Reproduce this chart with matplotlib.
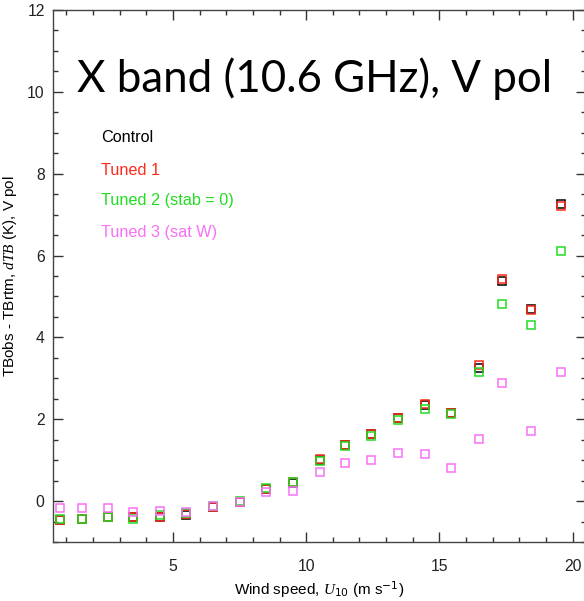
import matplotlib
matplotlib.use("Agg")
import matplotlib.pyplot as plt
from matplotlib.ticker import MultipleLocator

# mean wind speed of each bin (m/s)
wind = [0.75, 1.6, 2.55, 3.5, 4.5, 5.5, 6.5, 7.5, 8.5, 9.5,
        10.5, 11.45, 12.45, 13.45, 14.45, 15.45, 16.5, 17.35, 18.45, 19.55]

control = [-0.47, -0.45, -0.40, -0.38, -0.38, -0.33, -0.14, -0.02, 0.30, 0.45,
           1.01, 1.37, 1.64, 2.03, 2.34, 2.16, 3.25, 5.38, 4.70, 7.25]
tuned1 = [-0.47, -0.45, -0.39, -0.38, -0.38, -0.32, -0.14, -0.02, 0.30, 0.47,
          1.02, 1.38, 1.64, 2.04, 2.36, 2.16, 3.32, 5.42, 4.66, 7.22]
tuned2 = [-0.45, -0.44, -0.38, -0.43, -0.35, -0.30, -0.13, 0.00, 0.33, 0.47,
          0.98, 1.34, 1.60, 1.98, 2.26, 2.12, 3.15, 4.82, 4.31, 6.10]
tuned3 = [-0.16, -0.16, -0.16, -0.27, -0.25, -0.26, -0.13, -0.03, 0.22, 0.25,
          0.71, 0.94, 1.00, 1.17, 1.14, 0.80, 1.52, 2.88, 1.72, 3.16]

labels = ["Control", "Tuned 1", "Tuned 2 (stab = 0)", "Tuned 3 (sat W)"]
colors = ["black", "#ff2a1a", "#22dd22", "#f870f8"]

plt.rcParams['font.family'] = ['Liberation Sans', 'DejaVu Sans']
plt.rcParams['mathtext.fontset'] = 'custom'
plt.rcParams['mathtext.it'] = 'Liberation Serif:italic'

fig = plt.figure(figsize=(5.84, 6.01), dpi=100)
ax = fig.add_axes([53/584, 59/601, 533/584, 532/601])

for ys, c in zip([control, tuned1, tuned2, tuned3], colors):
    ax.plot(wind, ys, ls='none', marker='s', ms=6.3, mfc='none',
            mec=c, mew=1.1)

ax.set_xlim(0.5, 20.5)
ax.set_ylim(-1, 12)
ax.xaxis.set_major_locator(MultipleLocator(5))
ax.xaxis.set_minor_locator(MultipleLocator(1))
ax.yaxis.set_major_locator(MultipleLocator(2))
ax.yaxis.set_minor_locator(MultipleLocator(0.5))
ax.tick_params(which='both', direction='in', top=True, right=True,
               labelsize=11.3, colors='#333333', labelcolor='#222222')
ax.tick_params(which='major', length=7.5, width=1)
ax.tick_params(which='minor', length=3.8, width=1)
ax.tick_params(axis='x', pad=12)
ax.tick_params(axis='y', pad=6)
for s in ax.spines.values():
    s.set_color('#444444')
    s.set_linewidth(1)

ax.set_xlabel(r"Wind speed, $U_{10}$ (m s$^{-1}$)", fontsize=11, labelpad=4)
ax.set_ylabel(r"TBobs - TBrtm, $dTB$ (K), V pol", fontsize=11, labelpad=6)

ax.text(0.045, 0.846, "X band (10.6 GHz), V pol", transform=ax.transAxes,
        fontsize=31.6, family='Lato', va='baseline', ha='left', color='black')

ys_lab = [0.760, 0.699, 0.641, 0.581]
for t, c, yy in zip(labels, colors, ys_lab):
    ax.text(0.0895, yy, t, transform=ax.transAxes, fontsize=11.7,
            color=c, va='center', ha='left')

fig.savefig("out.png", dpi=100)
